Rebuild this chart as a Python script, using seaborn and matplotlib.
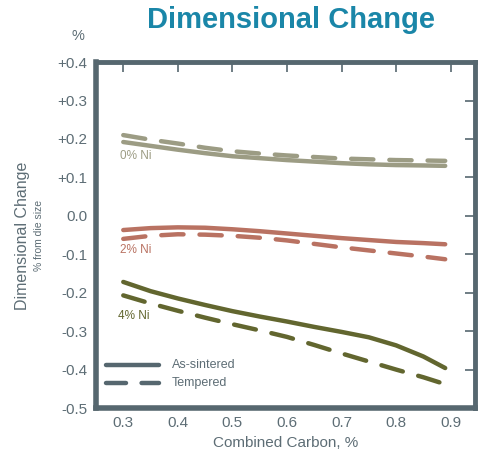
import pandas as pd
import matplotlib.pyplot as plt
import seaborn as sns

# Data (combined carbon %, dimensional change %)
carbon = [0.30, 0.35, 0.40, 0.45, 0.50, 0.55, 0.60, 0.65, 0.70, 0.75, 0.80, 0.85, 0.89]
ni0_sintered = [0.192, 0.182, 0.172, 0.163, 0.155, 0.150, 0.145, 0.141, 0.137, 0.134, 0.132, 0.131, 0.130]
ni0_tempered = [0.210, 0.198, 0.188, 0.177, 0.168, 0.162, 0.157, 0.153, 0.149, 0.147, 0.145, 0.144, 0.143]
ni2_sintered = [-0.037, -0.032, -0.030, -0.031, -0.035, -0.040, -0.046, -0.052, -0.058, -0.063, -0.068, -0.071, -0.074]
ni2_tempered = [-0.060, -0.052, -0.048, -0.049, -0.052, -0.057, -0.064, -0.073, -0.082, -0.090, -0.098, -0.106, -0.113]
ni4_sintered = [-0.172, -0.196, -0.215, -0.232, -0.248, -0.262, -0.275, -0.289, -0.302, -0.316, -0.337, -0.366, -0.396]
ni4_tempered = [-0.207, -0.228, -0.247, -0.265, -0.282, -0.298, -0.315, -0.336, -0.358, -0.379, -0.400, -0.420, -0.438]
y_ticks = [0.4, 0.3, 0.2, 0.1, 0.0, -0.1, -0.2, -0.3, -0.4, -0.5]
y_labels = ['+0.4', '+0.3', '+0.2', '+0.1', '0.0', '-0.1', '-0.2', '-0.3', '-0.4', '-0.5']
x_ticks = [0.3, 0.4, 0.5, 0.6, 0.7, 0.8, 0.9]

series = [
    ('0% Ni', ni0_sintered, ni0_tempered, '#9c9c84'),
    ('2% Ni', ni2_sintered, ni2_tempered, '#b97262'),
    ('4% Ni', ni4_sintered, ni4_tempered, '#62662f'),
]

sns.set_style('white')
plt.rcParams['font.family'] = ['Liberation Sans', 'DejaVu Sans']

frame = '#56676f'
text_c = '#5d6d75'

fig = plt.figure(figsize=(4.8, 4.53), dpi=100)
ax = fig.add_axes([0.2, 0.0993, 0.79, 0.7637])

dash = (0, (5, 3.6))
for name, solid, temp, col in series:
    df = pd.DataFrame({'carbon': carbon, 'solid': solid, 'temp': temp})
    sns.lineplot(data=df, x='carbon', y='solid', ax=ax, color=col, lw=3.2,
                 solid_capstyle='round', solid_joinstyle='round')
    sns.lineplot(data=df, x='carbon', y='temp', ax=ax, color=col, lw=3.2,
                 linestyle=dash, dash_capstyle='round')

# series labels
ax.text(0.294, 0.156, '0% Ni', color=series[0][3], fontsize=8.5, va='center')
ax.text(0.294, -0.09, '2% Ni', color=series[1][3], fontsize=8.5, va='center')
ax.text(0.291, -0.261, '4% Ni', color=series[2][3], fontsize=8.5, va='center')

# legend
ax.plot([0.268, 0.366], [-0.389, -0.389], color=frame, lw=3.2, solid_capstyle='round')
ax.plot([0.268, 0.366], [-0.436, -0.436], color=frame, lw=3.2,
        linestyle=(0, (4.5, 3.5)), dash_capstyle='round')
ax.text(0.389, -0.389, 'As-sintered', color=text_c, fontsize=9, va='center')
ax.text(0.389, -0.436, 'Tempered', color=text_c, fontsize=9, va='center')

ax.set_xlim(0.25, 0.945)
ax.set_ylim(-0.5, 0.4)
ax.set_xticks(x_ticks)
ax.set_xticklabels([f'{v:.1f}' for v in x_ticks])
ax.set_yticks(y_ticks)
ax.set_yticklabels(y_labels)
ax.tick_params(direction='in', length=7, width=1.2, color=frame,
               labelcolor=text_c, labelsize=11, top=True, right=True,
               pad=6)
ax.set_xlabel('Combined Carbon, %', color=text_c, fontsize=11, labelpad=4)
ax.set_ylabel('')

for side, w in [('left', 4), ('bottom', 4), ('top', 3.5), ('right', 3.5)]:
    ax.spines[side].set_color(frame)
    ax.spines[side].set_linewidth(w)

fig.text(0.046, 0.48, 'Dimensional Change', rotation=90, color=text_c,
         fontsize=11.5, ha='center', va='center')
fig.text(0.082, 0.48, '% from die size', rotation=90, color=text_c,
         fontsize=7.5, ha='center', va='center')
fig.text(0.162, 0.92, '%', color=text_c, fontsize=10.5, ha='center', va='center')
fig.text(0.606, 0.955, 'Dimensional Change', color='#1a86a8', fontsize=21,
         fontweight='bold', ha='center', va='center')

fig.savefig('out.png', dpi=100)
